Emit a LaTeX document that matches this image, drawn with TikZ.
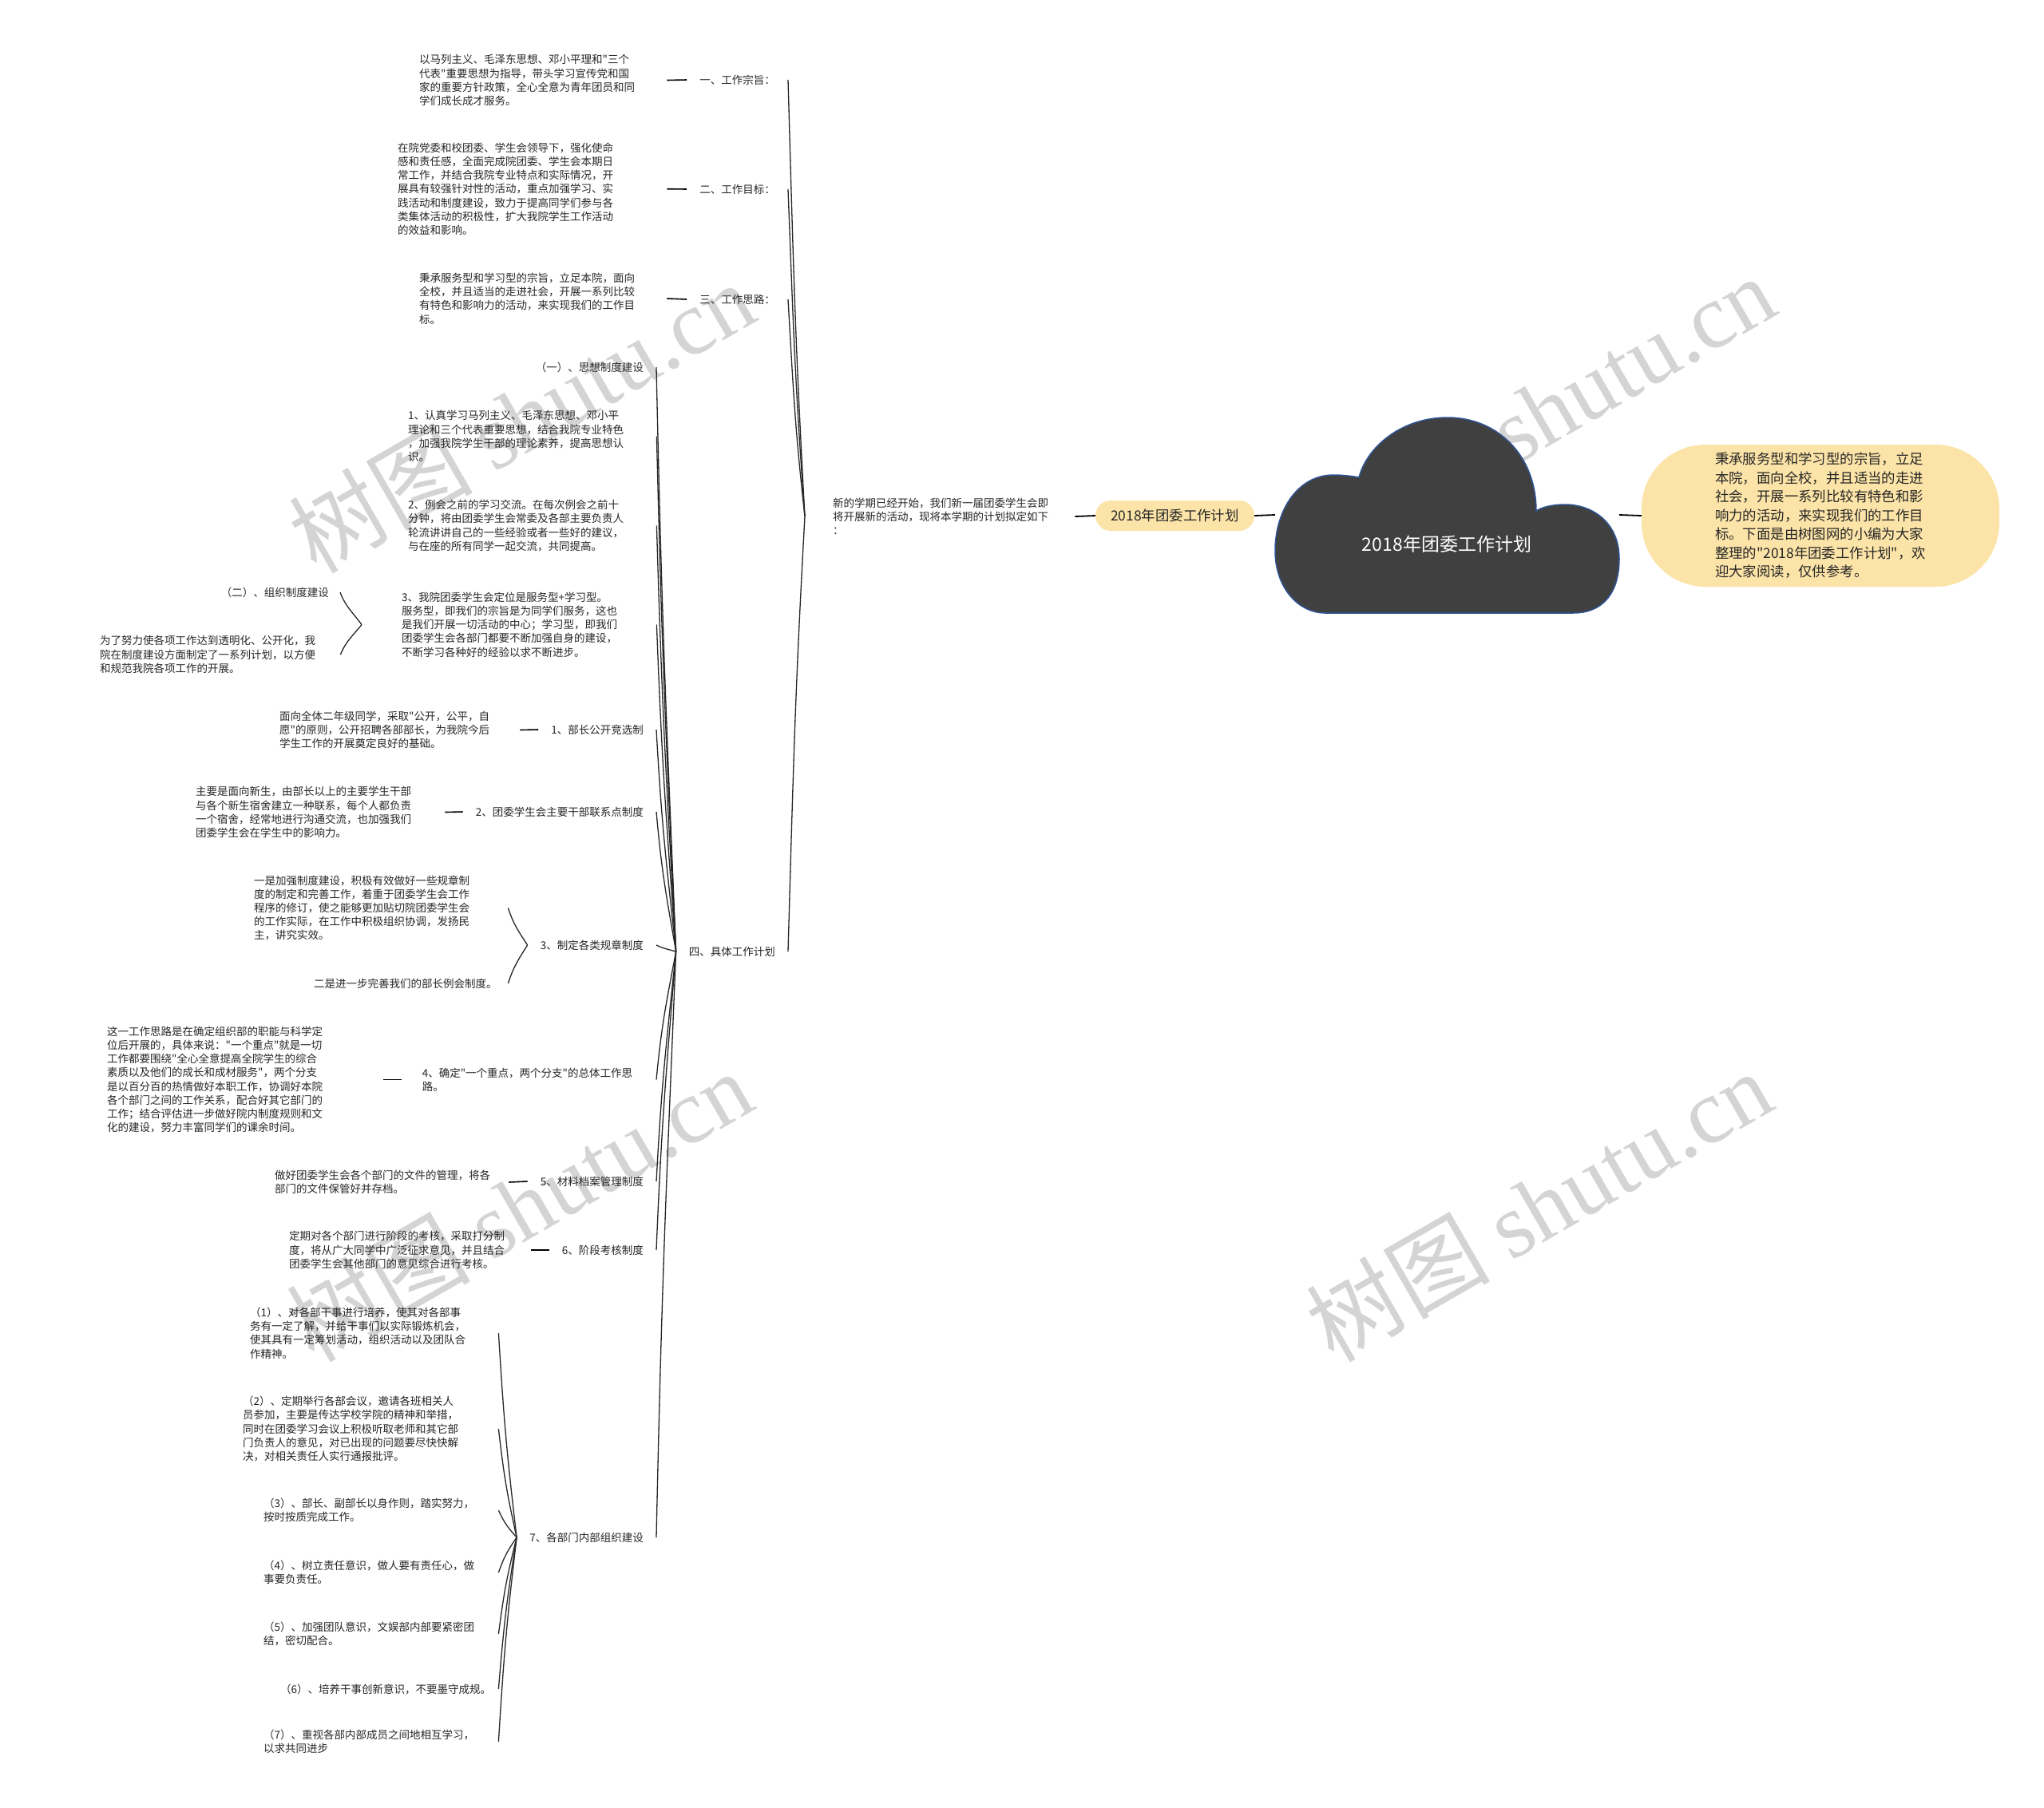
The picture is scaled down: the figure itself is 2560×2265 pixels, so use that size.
\documentclass[tikz,border=0pt]{standalone}
\usepackage{fontspec}
\setmainfont{Noto Sans CJK SC}[Ligatures=TeXOff]
\newfontfamily\wmlatin{Liberation Serif}
\usetikzlibrary{calc}
\definecolor{pillfill}{HTML}{FCE4A8}
\definecolor{cloudfill}{HTML}{404040}
\definecolor{cloudline}{HTML}{2F5496}
\definecolor{txt}{HTML}{262626}
\definecolor{wm}{HTML}{D4D4D4}
\begin{document}
\begin{tikzpicture}[x=1pt,y=-1pt,
  txtblk/.style={anchor=west, inner sep=0pt, align=left, font=\fontsize{13.5pt}{17.2pt}\selectfont, text=txt},
  lbl/.style={inner xsep=16pt, inner ysep=2pt, font=\fontsize{13.5pt}{17.2pt}\selectfont, text=txt},
  stub/.style={line width=1.6pt, draw=black},
  mainln/.style={line width=1.8pt, draw=black},
  brk/.style={draw=txt, line width=1.3pt, to path={let \p1=(\tikztostart), \p2=(\tikztotarget) in .. controls ({\x1-12pt},{\y1+0.4*(\y2-\y1)}) and ({\x2+7pt},{\y2-0.45*(\y2-\y1)}) .. (\tikztotarget)}},
  wmk/.style={rotate=30, text=wm, font=\fontsize{115pt}{120pt}\selectfont}]
\useasboundingbox[fill=white] (0,0) rectangle (2560,2265);

% watermarks
\node[wmk] (wm1) at (653,522) {树图 {\wmlatin shutu.cn}};
\node[wmk] (wm2) at (1931,514) {树图 {\wmlatin shutu.cn}};
\node[wmk] (wm3) at (650,1510) {树图 {\wmlatin shutu.cn}};
\node[wmk] (wm4) at (1927,1510) {树图 {\wmlatin shutu.cn}};

% root cloud
\path[fill=cloudfill, draw=cloudline, line width=1.5pt]
  (1660,768) -- (1970,768)
  .. controls (2010,768) and (2028,740) .. (2028,700)
  .. controls (2028,655) and (1995,632) .. (1960,632)
  .. controls (1945,632) and (1932,635) .. (1924,640)
  .. controls (1924,570) and (1875,523) .. (1813,523)
  .. controls (1755,523) and (1712,560) .. (1702,598)
  .. controls (1690,596) and (1680,595) .. (1670,595)
  .. controls (1625,595) and (1597,640) .. (1597,690)
  .. controls (1597,735) and (1625,768) .. (1660,768) -- cycle;
\node[font=\fontsize{23pt}{28pt}\selectfont, text=white] (root) at (1812,682) {2018年团委工作计划};
\coordinate (rootL) at (1597,645);
\coordinate (rootR) at (2028,645);

% summary
\node[fill=pillfill, rounded corners=80pt, minimum width=448pt, minimum height=178pt, align=left,
      font=\fontsize{17.4pt}{23.5pt}\selectfont, text=txt] (sum) at (2280,646)
  {秉承服务型和学习型的宗旨，立足\\本院，面向全校，并且适当的走进\\社会，开展一系列比较有特色和影\\响力的活动，来实现我们的工作目\\标。下面是由树图网的小编为大家\\整理的"2018年团委工作计划"，欢\\迎大家阅读，仅供参考。};

% pill and intro
\node[fill=pillfill, rounded corners=19pt, minimum width=199pt, minimum height=38pt, inner sep=0pt,
      font=\fontsize{17.4pt}{20pt}\selectfont, text=txt] (pill) at (1471.5,646) {2018年团委工作计划};
\node[txtblk, text width=303pt] (intro) at (1043,647)
  {新的学期已经开始，我们新一届团委学生会即\\将开展新的活动，现将本学期的计划拟定如下\\：};
\coordinate (introTip) at ($(intro.west)+(-35,0)$);

\draw[mainln] (intro.east) -- (pill.west);
\draw[mainln] (pill.east) -- (rootL);
\draw[mainln] (rootR) -- (sum.west);

% main level labels
\node[lbl, anchor=east] (s1) at (987,100) {一、工作宗旨：};
\node[lbl, anchor=east] (s2) at (987,237) {二、工作目标：};
\node[lbl, anchor=east] (s3) at (987,375) {三、工作思路：};
\node[lbl, anchor=east] (s4) at (987,1192) {四、具体工作计划};

\node[txtblk, text width=310pt] (t1) at (525,100.5)
  {以马列主义、毛泽东思想、邓小平理和"三个\\代表"重要思想为指导，带头学习宣传党和国\\家的重要方针政策，全心全意为青年团员和同\\学们成长成才服务。};
\node[txtblk, text width=337pt] (t2) at (498,236.7)
  {在院党委和校团委、学生会领导下，强化使命\\感和责任感，全面完成院团委、学生会本期日\\常工作，并结合我院专业特点和实际情况，开\\展具有较强针对性的活动，重点加强学习、实\\践活动和制度建设，致力于提高同学们参与各\\类集体活动的积极性，扩大我院学生工作活动\\的效益和影响。};
\node[txtblk, text width=310pt] (t3) at (525,374)
  {秉承服务型和学习型的宗旨，立足本院，面向\\全校，并且适当的走进社会，开展一系列比较\\有特色和影响力的活动，来实现我们的工作目\\标。};

\draw[stub] (t1.east) -- (s1.west);
\draw[stub] (t2.east) -- (s2.west);
\draw[stub] (t3.east) -- (s3.west);

\draw[brk] (introTip) to (s1.east);
\draw[brk] (introTip) to (s2.east);
\draw[brk] (introTip) to (s3.east);
\draw[brk] (introTip) to (s4.east);

% children of 四
\node[lbl, anchor=east] (a0) at (822,460) {（一）、思想制度建设};
\node[txtblk, text width=311pt] (i1) at (511,546.5)
  {1、认真学习马列主义、毛泽东思想、邓小平\\理论和三个代表重要思想，结合我院专业特色\\，加强我院学生干部的理论素养，提高思想认\\识。};
\node[txtblk, text width=311pt] (i2) at (511,658.5)
  {2、例会之前的学习交流。在每次例会之前十\\分钟，将由团委学生会常委及各部主要负责人\\轮流讲讲自己的一些经验或者一些好的建议，\\与在座的所有同学一起交流，共同提高。};
\node[txtblk, text width=319pt] (i3) at (503,782.5)
  {3、我院团委学生会定位是服务型+学习型。\\服务型，即我们的宗旨是为同学们服务，这也\\是我们开展一切活动的中心；学习型，即我们\\团委学生会各部门都要不断加强自身的建设，\\不断学习各种好的经验以求不断进步。};
\coordinate (i3tip) at ($(i3.west)+(-50,0)$);
\node[lbl, anchor=east, inner xsep=14pt] (o2) at (426,742) {（二）、组织制度建设};
\node[txtblk, text width=301pt] (o2t) at (125,820)
  {为了努力使各项工作达到透明化、公开化，我\\院在制度建设方面制定了一系列计划，以方便\\和规范我院各项工作的开展。};
\draw[brk] (i3tip) to (o2.east);
\draw[brk] (i3tip) to (o2t.east);

\node[lbl, anchor=east] (b1) at (822,914) {1、部长公开竞选制};
\node[txtblk, text width=301pt] (b1t) at (350,914.5)
  {面向全体二年级同学，采取"公开，公平，自\\愿"的原则，公开招聘各部部长，为我院今后\\学生工作的开展奠定良好的基础。};
\draw[stub] (b1t.east) -- (b1.west);

\node[lbl, anchor=east] (b2) at (822,1017) {2、团委学生会主要干部联系点制度};
\node[txtblk, text width=312pt] (b2t) at (245,1017.5)
  {主要是面向新生，由部长以上的主要学生干部\\与各个新生宿舍建立一种联系，每个人都负责\\一个宿舍，经常地进行沟通交流，也加强我们\\团委学生会在学生中的影响力。};
\draw[stub] (b2t.east) -- (b2.west);

\node[lbl, anchor=east] (b3) at (822,1184) {3、制定各类规章制度};
\node[txtblk, text width=318pt] (b3a) at (318,1137.5)
  {一是加强制度建设，积极有效做好一些规章制\\度的制定和完善工作，着重于团委学生会工作\\程序的修订，使之能够更加贴切院团委学生会\\的工作实际，在工作中积极组织协调，发扬民\\主，讲究实效。};
\node[txtblk, text width=243pt] (b3b) at (393,1232) {二是进一步完善我们的部长例会制度。};
\draw[brk] (b3.west) to (b3a.east);
\draw[brk] (b3.west) to (b3b.east);

\node[lbl, anchor=east, align=left, text width=277pt] (b4) at (822,1352.5)
  {4、确定"一个重点，两个分支"的总体工作思\\路。};
\node[txtblk, text width=346pt] (b4t) at (134,1352.5)
  {这一工作思路是在确定组织部的职能与科学定\\位后开展的，具体来说："一个重点"就是一切\\工作都要围绕"全心全意提高全院学生的综合\\素质以及他们的成长和成材服务"，两个分支\\是以百分百的热情做好本职工作，协调好本院\\各个部门之间的工作关系，配合好其它部门的\\工作；结合评估进一步做好院内制度规则和文\\化的建设，努力丰富同学们的课余时间。};
\draw[stub, shorten >=10pt] (b4t.east) -- (b4.west);

\node[lbl, anchor=east] (b5) at (822,1480) {5、材料档案管理制度};
\node[txtblk, text width=293pt] (b5t) at (344,1481)
  {做好团委学生会各个部门的文件的管理，将各\\部门的文件保管好并存档。};
\draw[stub] (b5t.east) -- (b5.west);

\node[lbl, anchor=east] (b6) at (822,1566) {6、阶段考核制度};
\node[txtblk, text width=303pt] (b6t) at (362,1566)
  {定期对各个部门进行阶段的考核，采取打分制\\度，将从广大同学中广泛征求意见，并且结合\\团委学生会其他部门的意见综合进行考核。};
\draw[stub] (b6t.east) -- (b6.west);

\node[lbl, anchor=east] (b7) at (822,1926) {7、各部门内部组织建设};
\node[txtblk, text width=311pt] (c1) at (313,1670)
  {（1）、对各部干事进行培养，使其对各部事\\务有一定了解，并给干事们以实际锻炼机会，\\使其具有一定筹划活动，组织活动以及团队合\\作精神。};
\node[txtblk, text width=320pt] (c2) at (304,1790)
  {（2）、定期举行各部会议，邀请各班相关人\\员参加，主要是传达学校学院的精神和举措，\\同时在团委学习会议上积极听取老师和其它部\\门负责人的意见，对已出现的问题要尽快快解\\决，对相关责任人实行通报批评。};
\node[txtblk, text width=294pt] (c3) at (330,1892)
  {（3）、部长、副部长以身作则，踏实努力，\\按时按质完成工作。};
\node[txtblk, text width=294pt] (c4) at (330,1970)
  {（4）、树立责任意识，做人要有责任心，做\\事要负责任。};
\node[txtblk, text width=294pt] (c5) at (330,2047)
  {（5）、加强团队意识，文娱部内部要紧密团\\结，密切配合。};
\node[txtblk, text width=273pt] (c6) at (351,2116)
  {（6）、培养干事创新意识，不要墨守成规。};
\node[txtblk, text width=294pt] (c7) at (330,2182)
  {（7）、重视各部内部成员之间地相互学习，\\以求共同进步};
\foreach \c in {c1,c2,c3,c4,c5,c6,c7} \draw[brk] (b7.west) to (\c.east);

\foreach \c in {a0,i1,i2,i3,b1,b2,b3,b4,b5,b6,b7} \draw[brk] (s4.west) to (\c.east);
\end{tikzpicture}
\end{document}
